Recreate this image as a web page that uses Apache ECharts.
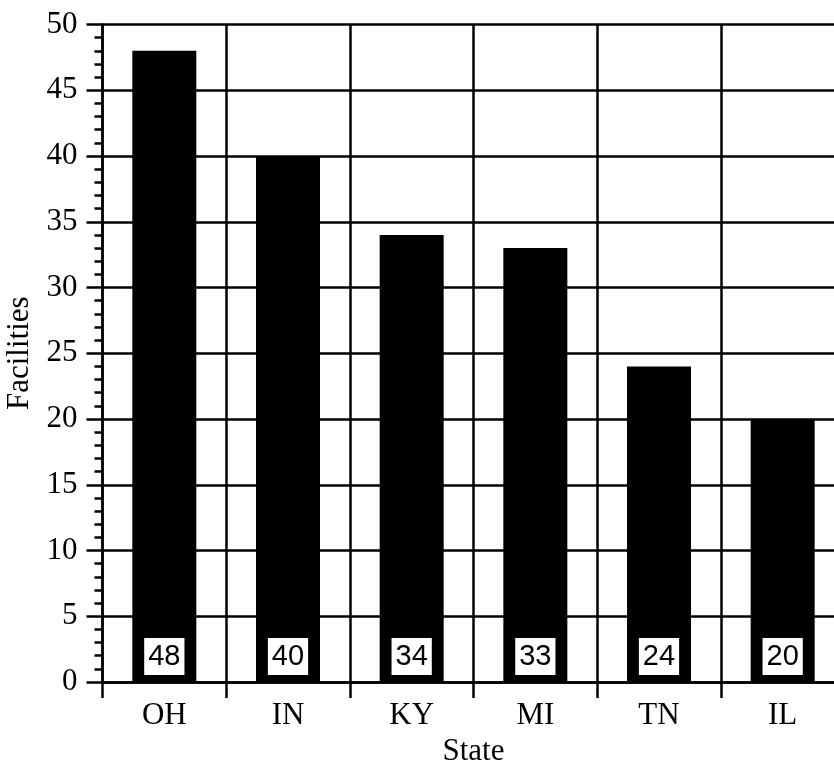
<!DOCTYPE html>
<html>
<head>
<meta charset="utf-8">
<script src="https://cdn.jsdelivr.net/npm/echarts@6/dist/echarts.min.js"></script>
<style>
html,body{margin:0;padding:0;background:#fff;}
#chart{width:834px;height:770px;}
</style>
</head>
<body>
<div id="chart"></div>
<script>
const categories = ['OH', 'IN', 'KY', 'MI', 'TN', 'IL'];
const facilities = [48, 40, 34, 33, 24, 20];
const yTicks = [0, 5, 10, 15, 20, 25, 30, 35, 40, 45, 50];

const serif = 'Liberation Serif';
const chart = echarts.init(document.getElementById('chart'));
chart.setOption({
  backgroundColor: '#fff',
  animation: false,
  grid: { left: 102.5, top: 24.5, width: 742, height: 657.5, containLabel: false, outerBoundsMode: 'none' },
  xAxis: {
    type: 'category',
    data: categories,
    boundaryGap: true,
    name: 'State',
    nameLocation: 'middle',
    nameGap: 44,
    nameTextStyle: { fontFamily: serif, fontSize: 31, color: '#000' },
    axisLine: { show: true, lineStyle: { color: '#000', width: 2.5 } },
    axisTick: { show: true, length: 16, inside: false, lineStyle: { color: '#000', width: 2.5 } },
    axisLabel: { fontFamily: serif, fontSize: 31, color: '#000', margin: 19, lineHeight: 30 },
    splitLine: { show: true, lineStyle: { color: '#000', width: 2.5 } }
  },
  yAxis: {
    type: 'value',
    min: yTicks[0],
    max: yTicks[yTicks.length - 1],
    interval: 5,
    name: 'Facilities',
    nameLocation: 'middle',
    nameGap: 56,
    nameTextStyle: { fontFamily: serif, fontSize: 31, color: '#000' },
    axisLine: { show: true, lineStyle: { color: '#000', width: 2.5 } },
    axisTick: { show: true, length: 16, inside: false, lineStyle: { color: '#000', width: 2.5 } },
    minorTick: { show: true, splitNumber: 5, length: 8, lineStyle: { color: '#000', width: 2.5 } },
    axisLabel: { fontFamily: serif, fontSize: 31, color: '#000', margin: 25 },
    splitLine: { show: true, lineStyle: { color: '#000', width: 2.5 } }
  },
  series: [{
    type: 'bar',
    data: facilities,
    barWidth: 64,
    itemStyle: { color: '#000' },
    label: {
      show: true,
      position: 'insideBottom',
      distance: 7,
      fontFamily: 'Liberation Sans',
      fontSize: 29,
      lineHeight: 31,
      color: '#000',
      backgroundColor: '#fff',
      borderColor: '#000',
      borderWidth: 1,
      padding: [3, 4, 3, 4]
    }
  }]
});
</script>
</body>
</html>
